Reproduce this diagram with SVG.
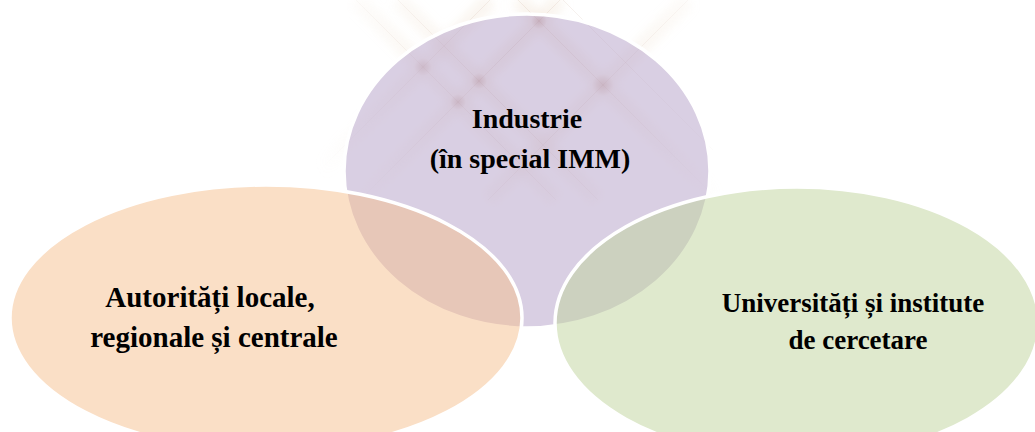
<svg xmlns="http://www.w3.org/2000/svg" width="1035" height="432" viewBox="0 0 1035 432">
  <style>
    .node { stroke: #ffffff; stroke-width: 3.5; }
    .lbl { font-weight: bold; font-size: 28px; fill: #000000; text-anchor: middle; }
    .thin { stroke: #a8765e; stroke-width: 1; fill: none; opacity: 0.14; }
    .band { stroke: #ecd5bd; stroke-width: 16; fill: none; opacity: 0.3; }
  </style>
  <defs>
    <radialGradient id="fade" cx="530" cy="60" r="240" gradientUnits="userSpaceOnUse">
      <stop offset="0" stop-color="#fff" stop-opacity="1"/>
      <stop offset="0.55" stop-color="#fff" stop-opacity="0.5"/>
      <stop offset="1" stop-color="#fff" stop-opacity="0"/>
    </radialGradient>
    <mask id="decoMask" maskUnits="userSpaceOnUse" x="0" y="0" width="1035" height="432">
      <rect x="0" y="0" width="1035" height="432" fill="url(#fade)"/>
    </mask>
    <radialGradient id="glow">
      <stop offset="0" stop-color="#a0634a" stop-opacity="0.35"/>
      <stop offset="1" stop-color="#a0634a" stop-opacity="0"/>
    </radialGradient>
    <filter id="blur" x="-20%" y="-20%" width="140%" height="140%">
      <feGaussianBlur stdDeviation="5"/>
    </filter>
  </defs>

  <rect x="0" y="0" width="1035" height="432" fill="#ffffff"/>

  <g id="decoration" mask="url(#decoMask)">
    <g filter="url(#blur)">
      <line class="band" x1="356" y1="0" x2="556" y2="200"/>
      <line class="band" x1="398" y1="0" x2="598" y2="200"/>
      <line class="band" x1="518" y1="0" x2="718" y2="200"/>
      <line class="band" x1="490" y1="0" x2="290" y2="200"/>
      <line class="band" x1="560" y1="0" x2="360" y2="200"/>
      <line class="band" x1="688" y1="0" x2="488" y2="200"/>
    </g>
    <line class="thin" x1="356" y1="0" x2="556" y2="200"/>
    <line class="thin" x1="398" y1="0" x2="598" y2="200"/>
    <line class="thin" x1="518" y1="0" x2="718" y2="200"/>
    <line class="thin" x1="563" y1="0" x2="713" y2="150"/>
    <line class="thin" x1="490" y1="0" x2="290" y2="200"/>
    <line class="thin" x1="560" y1="0" x2="360" y2="200"/>
    <line class="thin" x1="688" y1="0" x2="488" y2="200"/>
    <circle cx="423" cy="67" r="9" fill="url(#glow)"/>
    <circle cx="458" cy="102" r="8" fill="url(#glow)"/>
    <circle cx="479" cy="81" r="8" fill="url(#glow)"/>
    <circle cx="603" cy="85" r="11" fill="url(#glow)"/>
    <circle cx="539" cy="21" r="8" fill="url(#glow)"/>
  </g>

  <g id="node-industrie">
    <ellipse class="node" cx="527" cy="171" rx="183" ry="157" fill="#b39fc7" fill-opacity="0.5"/>
    <text class="lbl" font-family="'Liberation Serif', 'DejaVu Serif', serif" x="527" y="128">Industrie</text>
    <text class="lbl" font-family="'Liberation Serif', 'DejaVu Serif', serif" x="530" y="168">(în special IMM)</text>
  </g>

  <g id="node-autoritati">
    <ellipse class="node" cx="266" cy="318" rx="256" ry="133" fill="#f5bf8d" fill-opacity="0.5"/>
    <text class="lbl" font-family="'Liberation Serif', 'DejaVu Serif', serif" font-size="29" style="font-size:29px" x="210" y="307">Autorități locale,</text>
    <text class="lbl" font-family="'Liberation Serif', 'DejaVu Serif', serif" font-size="29" style="font-size:29px" x="214" y="347">regionale și centrale</text>
  </g>

  <g id="node-universitati">
    <ellipse class="node" cx="797" cy="323" rx="242" ry="136" fill="#bfd39b" fill-opacity="0.5"/>
    <text class="lbl" font-family="'Liberation Serif', 'DejaVu Serif', serif" font-size="27" style="font-size:27px" x="853" y="312">Universități și institute</text>
    <text class="lbl" font-family="'Liberation Serif', 'DejaVu Serif', serif" font-size="27" style="font-size:27px" x="858" y="349">de cercetare</text>
  </g>

  <g id="connectors"/>
</svg>
